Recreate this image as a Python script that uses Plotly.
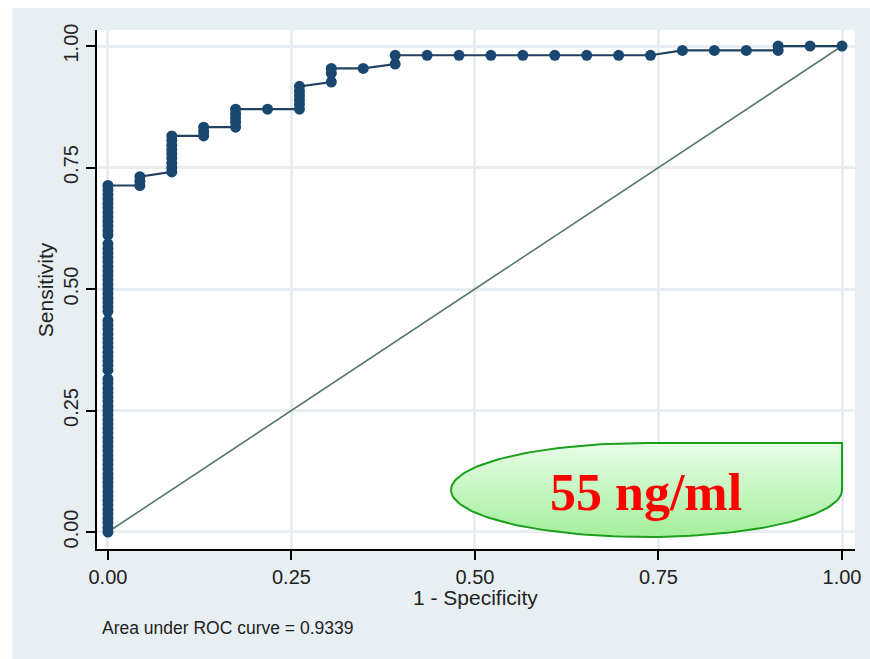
import plotly.graph_objects as go
import numpy as np

# ---------------- data ----------------
# sensitivity values plotted at 1-specificity = 0 (many cutoffs)
sens_at_fpr0 = [0.000, 0.009, 0.019, 0.028, 0.037, 0.046, 0.056, 0.065, 0.074, 0.083,
                0.093, 0.102, 0.111, 0.120, 0.130, 0.139, 0.148, 0.157, 0.167, 0.176,
                0.185, 0.194, 0.204, 0.213, 0.222, 0.231, 0.241, 0.250, 0.259, 0.269,
                0.278, 0.287, 0.296, 0.306, 0.315, 0.333, 0.343, 0.352, 0.361, 0.370,
                0.380, 0.389, 0.398, 0.407, 0.417, 0.426, 0.435, 0.454, 0.463, 0.472,
                0.481, 0.491, 0.500, 0.509, 0.519, 0.528, 0.537, 0.546, 0.556, 0.565,
                0.574, 0.583, 0.593, 0.611, 0.620, 0.630, 0.639, 0.648, 0.657, 0.667,
                0.676, 0.685, 0.694, 0.704, 0.713]

# remaining ROC points (1 - specificity, sensitivity)
roc_fpr = [0.0435, 0.0435, 0.0435,
           0.0870, 0.0870, 0.0870, 0.0870, 0.0870, 0.0870, 0.0870, 0.0870, 0.0870,
           0.1304, 0.1304, 0.1304,
           0.1739, 0.1739, 0.1739, 0.1739, 0.1739,
           0.2174,
           0.2609, 0.2609, 0.2609, 0.2609, 0.2609, 0.2609,
           0.3043, 0.3043, 0.3043,
           0.3478,
           0.3913, 0.3913,
           0.4348, 0.4783, 0.5217, 0.5652, 0.6087, 0.6522, 0.6957, 0.7391,
           0.7826, 0.8261, 0.8696,
           0.9130, 0.9130,
           0.9565, 1.0000]
roc_sens = [0.713, 0.722, 0.731,
            0.741, 0.750, 0.759, 0.769, 0.778, 0.787, 0.796, 0.806, 0.815,
            0.815, 0.824, 0.833,
            0.833, 0.843, 0.852, 0.861, 0.870,
            0.870,
            0.870, 0.880, 0.889, 0.898, 0.907, 0.917,
            0.926, 0.944, 0.954,
            0.954,
            0.963, 0.981,
            0.981, 0.981, 0.981, 0.981, 0.981, 0.981, 0.981, 0.981,
            0.991, 0.991, 0.991,
            0.991, 1.000,
            1.000, 1.000]

ref_x = [0.0, 1.0]
ref_y = [0.0, 1.0]

tick_vals = [0.0, 0.25, 0.5, 0.75, 1.0]
tick_text = ["0.00", "0.25", "0.50", "0.75", "1.00"]

auc_text = "Area under ROC curve = 0.9339"
callout_text = "55 ng/ml"
x_title = "1 - Specificity"
y_title = "Sensitivity"

# ---------------- figure ----------------
NAVY = "#1a476f"
FONT = "Liberation Sans, Arial, sans-serif"
TXT = "#222222"

all_x = [0.0] * len(sens_at_fpr0) + roc_fpr
all_y = sens_at_fpr0 + roc_sens

fig = go.Figure()

# callout ellipse with square top-right corner (decoration, in data units)
cx, cy, a, b = 0.7337, 0.0864, 0.2663, 0.0967
t = np.linspace(np.pi / 2, 2 * np.pi, 120)
ex = list(cx + a * np.cos(t)) + [cx + a, cx]
ey = list(cy + b * np.sin(t)) + [cy + b, cy + b]
fig.add_trace(go.Scatter(
    x=ex, y=ey, mode="lines", fill="toself",
    fillgradient=dict(type="vertical",
                      colorscale=[[0, "#a3ef9b"], [1, "#e8fde8"]]),
    line=dict(color="#1ca01c", width=2),
    hoverinfo="skip", showlegend=False))

fig.add_trace(go.Scatter(
    x=ref_x, y=ref_y, mode="lines",
    line=dict(color="#557a67", width=1.6),
    hoverinfo="skip", showlegend=False))

fig.add_trace(go.Scatter(
    x=all_x, y=all_y, mode="lines+markers",
    line=dict(color="#22405f", width=2.2),
    marker=dict(color=NAVY, size=11, line=dict(width=0)),
    showlegend=False))

axis_common = dict(
    tickvals=tick_vals, ticktext=tick_text,
    showgrid=True, gridcolor="#e7edf0", gridwidth=2.5,
    zeroline=False, showline=True, linecolor="black", linewidth=1.5,
    ticks="outside", ticklen=9, tickwidth=1.5, tickcolor="black",
    tickfont=dict(family=FONT, size=20, color=TXT),
)

fig.update_layout(
    width=870, height=659,
    margin=dict(l=97, r=9, t=30, b=110),
    paper_bgcolor="#e8eff2",
    plot_bgcolor="white",
    xaxis=dict(range=[-0.0149, 1.0177], **axis_common),
    yaxis=dict(range=[-0.035, 1.033], tickangle=-90, **axis_common),
    showlegend=False,
)

# white strips at left and top of the page
fig.add_shape(type="rect", xref="paper", yref="paper",
              x0=-0.13, x1=-0.1118, y0=-0.22, y1=1.06,
              fillcolor="white", line=dict(width=0), layer="below")
fig.add_shape(type="rect", xref="paper", yref="paper",
              x0=-0.13, x1=1.02, y0=1.0424, y1=1.06,
              fillcolor="white", line=dict(width=0), layer="below")

fig.add_annotation(x=0.7323, y=0.0823, xref="x", yref="y",
                   text="<b>" + callout_text + "</b>", showarrow=False,
                   font=dict(family="Liberation Serif, Times New Roman, serif",
                             size=52, color="#ff0000"),
                   xanchor="center", yanchor="middle")

fig.add_annotation(x=0.4987, y=-0.0925, xref="paper", yref="paper",
                   text=x_title, showarrow=False,
                   font=dict(family=FONT, size=21, color=TXT),
                   xanchor="center", yanchor="middle")
fig.add_annotation(x=-0.0684, y=0.499, xref="paper", yref="paper",
                   text=y_title, showarrow=False, textangle=-90,
                   font=dict(family=FONT, size=21, color=TXT),
                   xanchor="center", yanchor="middle")
fig.add_annotation(x=0.0039, y=-0.152, xref="paper", yref="paper",
                   text=auc_text, showarrow=False,
                   font=dict(family=FONT, size=17.5, color=TXT),
                   xanchor="left", yanchor="middle")

fig.write_html("out.html")
